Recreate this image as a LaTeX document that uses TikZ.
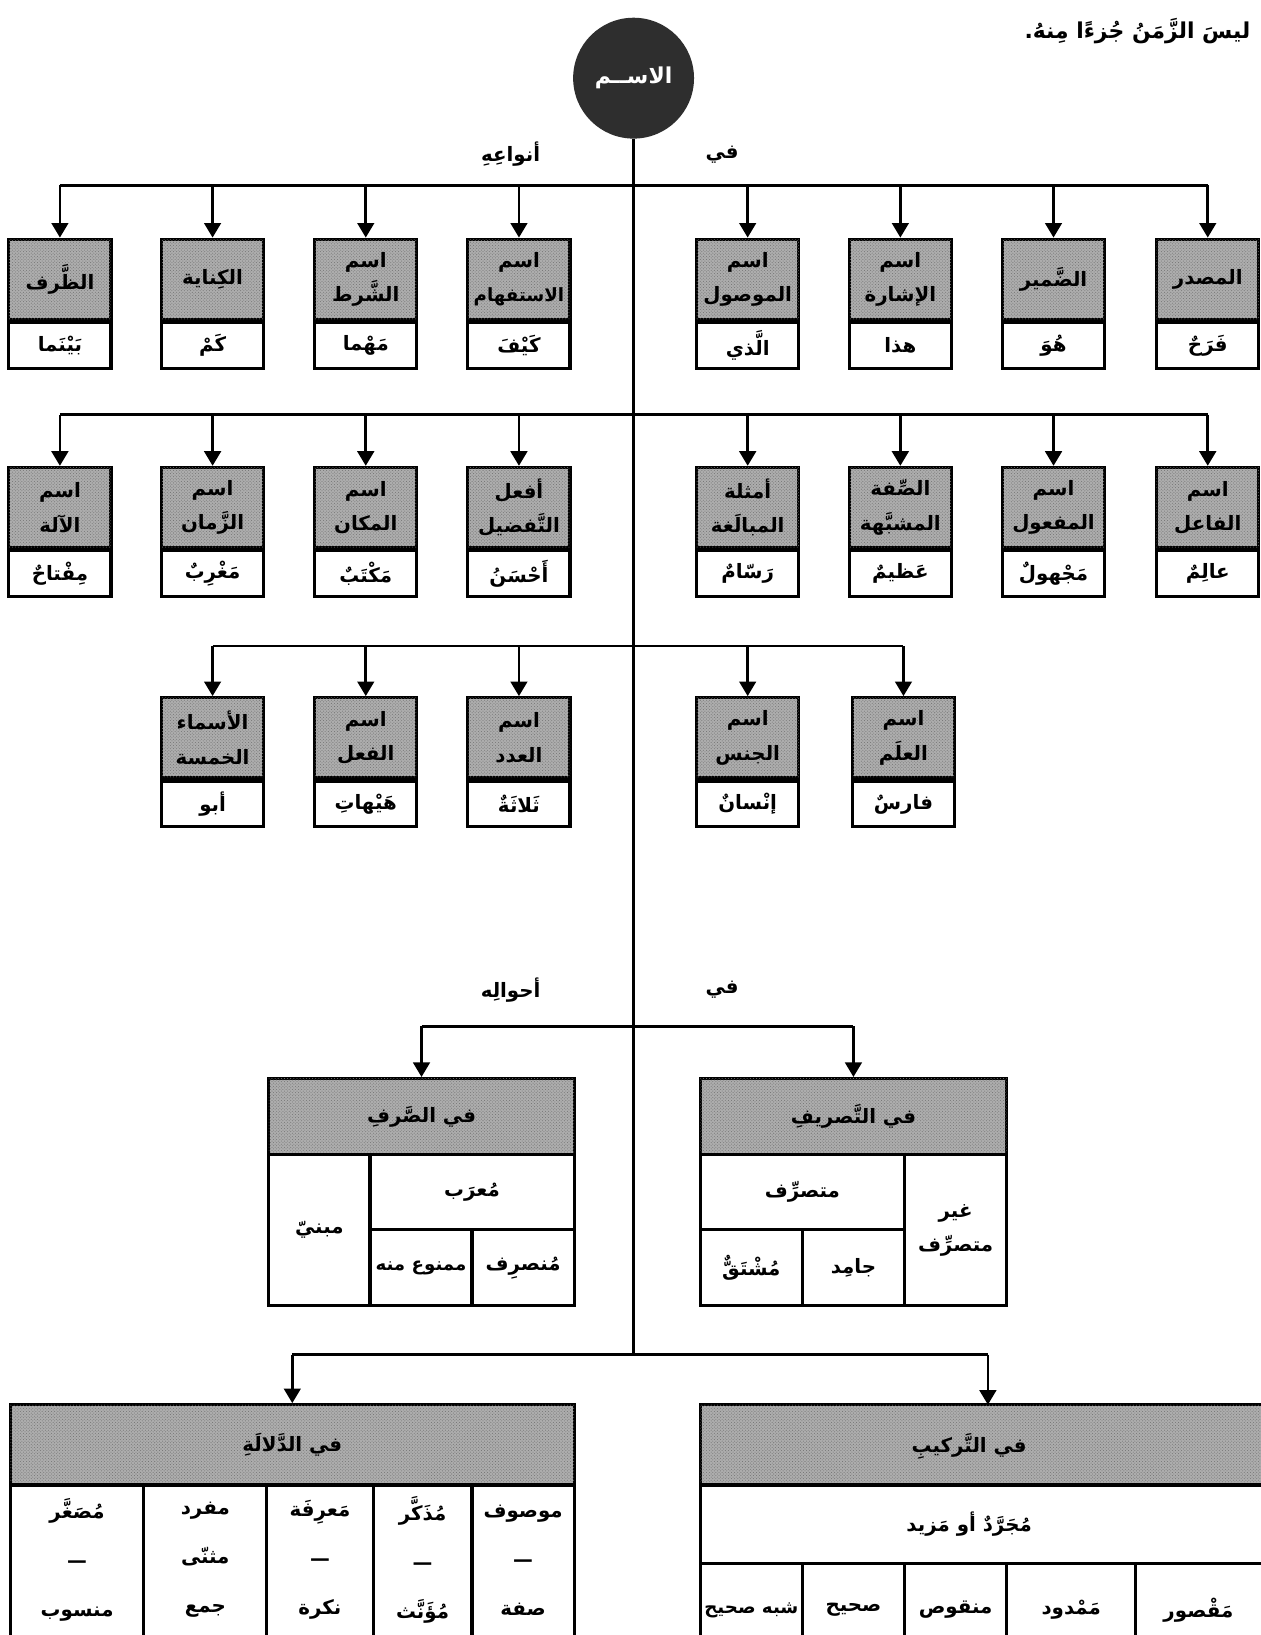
\documentclass[tikz,border=0pt]{standalone}
\usepackage{fontspec}
\TeXXeTstate=1
\newfontfamily\arfont[Script=Arabic]{DejaVu Sans}
\usetikzlibrary{arrows.meta,patterns}
\newcommand\AR[1]{\beginR #1\endR}
\newcommand\smallar{\fontsize{17.5}{32}\selectfont}
\newcommand\cellnode[6]{\node[#1, minimum width={#4-#2}, minimum height={#5-#3}] (#6) at ({(#2+#4)/2},{(#3+#5)/2})}
\newcommand\smallbox[5]{%
  \node[hdr, minimum width=98, minimum height=77, anchor=north] (#1) at (#2,#3) {#4};
  \node[cellb, minimum width=98, minimum height=44, anchor=north] (#1e) at (#1.south) {\AR{#5}};}
\tikzset{
  conn/.style={line width=2.5pt},
  arr/.style={line width=2.5pt, -{Triangle[width=16pt,length=14pt]}},
  afont/.style={font=\arfont\bfseries\fontsize{19}{33}\selectfont},
  hdr/.style={draw, line width=3pt, fill=black!32, postaction={pattern=crosshatch dots, pattern color=black!55}, inner sep=0pt, align=center, afont},
  cellb/.style={draw, line width=3pt, fill=white, inner sep=0pt, align=center, afont},
  txt/.style={inner sep=0pt, align=center, afont},
}
\begin{document}
\begin{tikzpicture}[x=1pt,y=-1pt]
\useasboundingbox (0,0) rectangle (1210,1569);
\clip (0,0) rectangle (1210,1569);
\fill[white] (0,0) rectangle (1210,1569);

% note and root
\node[txt, anchor=east, font=\arfont\bfseries\fontsize{21}{26}\selectfont] (note) at (1200,30) {\AR{ليسَ الزَّمَنُ جُزءًا مِنهُ.}};
\node[circle, fill=black!82, minimum size=116, inner sep=0pt, text=white, font=\arfont\bfseries\fontsize{21}{26}\selectfont] (root) at (608,75) {\AR{الاســم}};

% junctions
\coordinate (j1) at (608,178);
\coordinate (j2) at (608,398);
\coordinate (j3) at (608,620);
\coordinate (j4) at (608,985);
\coordinate (j5) at (608,1300);
\draw[conn] (root.south) -- (j5);

\node[txt] (lab1) at (490,148) {\AR{أنواعِهِ}};
\node[txt] (lab2) at (693,148) {\AR{في}};
\node[txt] (lab3) at (490,950) {\AR{أحوالِه}};
\node[txt] (lab4) at (693,950) {\AR{في}};

% row 1
\smallbox{r1a}{1159}{228}{\AR{المصدر}}{فَرَحٌ}
\smallbox{r1b}{1011}{228}{\AR{الضَّمير}}{هُوَ}
\smallbox{r1c}{864}{228}{\AR{اسم}\\\AR{الإشارة}}{هذا}
\smallbox{r1d}{717.5}{228}{\AR{اسم}\\\AR{الموصول}}{الَّذي}
\smallbox{r1e}{498}{228}{\AR{اسم}\\\smallar\AR{الاستفهام}}{كَيْفَ}
\smallbox{r1f}{351}{228}{\AR{اسم}\\\AR{الشَّرط}}{مَهْما}
\smallbox{r1g}{204}{228}{\AR{الكِناية}}{كَمْ}
\smallbox{r1h}{57.5}{228}{\AR{الظَّرف}}{بَيْنَما}
\draw[conn] (r1h.north |- j1) -- (r1a.north |- j1);
\foreach \n in {r1a,r1b,r1c,r1d,r1e,r1f,r1g,r1h} \draw[arr] (\n.north |- j1) -- (\n.north);

% row 2
\smallbox{r2a}{1159}{447}{\AR{اسم}\\\AR{الفاعل}}{عالِمٌ}
\smallbox{r2b}{1011}{447}{\AR{اسم}\\\AR{المفعول}}{مَجْهولٌ}
\smallbox{r2c}{864}{447}{\AR{الصِّفة}\\\AR{المشبَّهة}}{عَظيمٌ}
\smallbox{r2d}{717.5}{447}{\AR{أمثلة}\\\AR{المبالَغة}}{رَسّامٌ}
\smallbox{r2e}{498}{447}{\AR{أفعل}\\\AR{التَّفضيل}}{أَحْسَنُ}
\smallbox{r2f}{351}{447}{\AR{اسم}\\\AR{المكان}}{مَكْتَبٌ}
\smallbox{r2g}{204}{447}{\AR{اسم}\\\AR{الزَّمان}}{مَغْرِبٌ}
\smallbox{r2h}{57.5}{447}{\AR{اسم}\\\AR{الآلة}}{مِفْتاحٌ}
\draw[conn] (r2h.north |- j2) -- (r2a.north |- j2);
\foreach \n in {r2a,r2b,r2c,r2d,r2e,r2f,r2g,r2h} \draw[arr] (\n.north |- j2) -- (\n.north);

% row 3
\smallbox{r3a}{867}{668}{\AR{اسم}\\\AR{العلَم}}{فارسٌ}
\smallbox{r3b}{717.5}{668}{\AR{اسم}\\\AR{الجنس}}{إنْسانٌ}
\smallbox{r3c}{498}{668}{\AR{اسم}\\\AR{العدد}}{ثَلاثَةٌ}
\smallbox{r3d}{351}{668}{\AR{اسم}\\\AR{الفعل}}{هَيْهاتِ}
\smallbox{r3e}{204}{668}{\AR{الأسماء}\\\AR{الخمسة}}{أبو}
\draw[conn] (r3e.north |- j3) -- (r3a.north |- j3);
\foreach \n in {r3a,r3b,r3c,r3d,r3e} \draw[arr] (\n.north |- j3) -- (\n.north);

% in sarf
\cellnode{hdr}{258}{1035}{551}{1108}{sh} {\AR{في الصَّرفِ}};
\cellnode{cellb}{258}{1108}{355}{1253}{s1} {\AR{مبنيّ}};
\cellnode{cellb}{355}{1108}{551}{1180}{s2} {\AR{مُعرَب}};
\cellnode{cellb}{355}{1180}{453}{1253}{s3} {\smallar\AR{ممنوع منه}};
\cellnode{cellb}{453}{1180}{551}{1253}{s4} {\AR{مُنصرِف}};
% in tasrif
\cellnode{hdr}{672}{1035}{966}{1108}{th} {\AR{في التَّصريفِ}};
\cellnode{cellb}{868}{1108}{966}{1253}{t1} {\AR{غير}\\\AR{متصرِّف}};
\cellnode{cellb}{672}{1108}{868}{1180}{t2} {\AR{متصرِّف}};
\cellnode{cellb}{770}{1180}{868}{1253}{t3} {\AR{جامِد}};
\cellnode{cellb}{672}{1180}{770}{1253}{t4} {\AR{مُشْتَقٌّ}};
\draw[conn] (sh.north |- j4) -- (th.north |- j4);
\foreach \n in {sh,th} \draw[arr] (\n.north |- j4) -- (\n.north);

% in dalala
\cellnode{hdr}{10}{1348}{551}{1425}{dh} {\AR{في الدَّلالَةِ}};
\cellnode{cellb}{10}{1425}{138}{1585}{d1} {};
\cellnode{cellb}{138}{1425}{256}{1585}{d2} {};
\cellnode{cellb}{256}{1425}{358}{1585}{d3} {};
\cellnode{cellb}{358}{1425}{453}{1585}{d4} {};
\cellnode{cellb}{453}{1425}{551}{1585}{d5} {};
\begin{scope}[every node/.style={txt, font=\arfont\bfseries\fontsize{19}{47}\selectfont}]
\node (d1t) at (74,1497) {\AR{مُصَغَّر}\\\AR{—}\\\AR{منسوب}};
\node (d2t) at (197,1497) {\AR{مفرد}\\\AR{مثنّى}\\\AR{جمع}};
\node (d3t) at (307,1497) {\AR{مَعرِفَة}\\\AR{—}\\\AR{نكرة}};
\node (d4t) at (405.5,1497) {\AR{مُذَكَّر}\\\AR{—}\\\AR{مُؤَنَّث}};
\node (d5t) at (502,1497) {\AR{موصوف}\\\AR{—}\\\AR{صفة}};
\end{scope}

% in tarkib
\cellnode{hdr}{672}{1348}{1225}{1425}{rh} {};
\cellnode{cellb}{672}{1425}{1225}{1500}{rm} {};
\node[txt] (rht) at (930,1388) {\AR{في التَّركيبِ}};
\node[txt] (rmt) at (930,1463) {\AR{مُجَرَّدٌ أو مَزيد}};
\cellnode{cellb}{672}{1500}{770}{1585}{b1} {};
\cellnode{cellb}{770}{1500}{868}{1585}{b2} {};
\cellnode{cellb}{868}{1500}{966}{1585}{b3} {};
\cellnode{cellb}{966}{1500}{1090}{1585}{b4} {};
\cellnode{cellb}{1090}{1500}{1225}{1585}{b5} {};
\node[txt, font=\arfont\bfseries\smallar] (b1t) at (721,1545) {\AR{شبه صحيح}};
\node[txt] (b2t) at (819,1545) {\AR{صحيح}};
\node[txt] (b3t) at (917,1545) {\AR{منقوص}};
\node[txt] (b4t) at (1028,1545) {\AR{مَمْدود}};
\node[txt] (b5t) at (1150,1545) {\AR{مَقْصور}};
\coordinate (tipR) at (948,1348);
\draw[conn] (dh.north |- j5) -- (tipR |- j5);
\draw[arr] (dh.north |- j5) -- (dh.north);
\draw[arr] (tipR |- j5) -- (tipR);
\end{tikzpicture}
\end{document}
